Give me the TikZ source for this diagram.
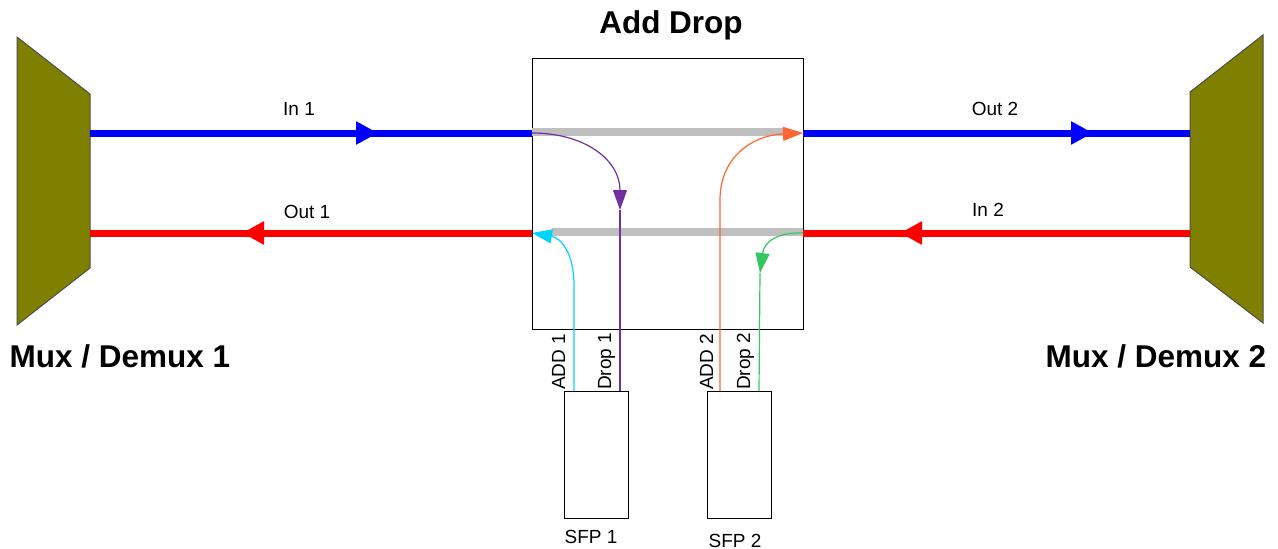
\documentclass[tikz,border=0pt]{standalone}
\usepackage{fontspec}
\setmainfont{Liberation Sans}
\usetikzlibrary{arrows.meta}
\definecolor{olivemux}{RGB}{128,128,0}
\definecolor{linkblue}{RGB}{0,0,255}
\definecolor{linkred}{RGB}{255,0,0}
\definecolor{bargray}{RGB}{191,191,191}
\definecolor{droppurple}{RGB}{112,48,160}
\definecolor{addorange}{RGB}{255,102,51}
\definecolor{addcyan}{RGB}{0,212,250}
\definecolor{dropgreen}{RGB}{51,200,100}
\tikzset{
 mux/.style={fill=olivemux, draw=black!70, line width=1pt},
 link/.style={line width=7pt},
 bigtip/.style={-{Triangle[length=22pt,width=22pt]}},
 bar/.style={line width=8pt, bargray},
 fiber/.style={line width=1.2pt},
 smalltip/.style={-{Triangle[length=20pt,width=14pt]}},
 lbl/.style={font=\fontsize{19}{22}\selectfont, inner sep=0pt, anchor=base},
 ttl/.style={font=\bfseries\fontsize{31.5}{36}\selectfont, inner sep=0pt, anchor=base},
 vlbl/.style={font=\fontsize{19}{22}\selectfont, inner sep=0pt, anchor=base west, rotate=90},
 boxst/.style={draw=black, line width=1pt, inner sep=0pt, outer sep=0pt},
}
\begin{document}
\begin{tikzpicture}[x=1pt,y=-1pt]
\useasboundingbox (0,0) rectangle (1278,549);
% mux shapes
\draw[mux] (17,37) -- (90,94) -- (90,268) -- (17,325) -- cycle;
\draw[mux] (1263,35) -- (1190,92) -- (1190,267) -- (1263,323) -- cycle;
% boxes
\node[boxst, minimum width=271pt, minimum height=271pt, anchor=north west] (ad) at (532,58) {};
\node[boxst, minimum width=64pt, minimum height=127pt, anchor=north west] (sfp1) at (564,391) {};
\node[boxst, minimum width=64pt, minimum height=127pt, anchor=north west] (sfp2) at (707,391) {};
% ports
\coordinate (m1b) at (90,133);
\coordinate (m1r) at (90,233);
\coordinate (m2b) at (1190,133);
\coordinate (m2r) at (1190,233);
\coordinate (adl1) at (532,133);
\coordinate (adl2) at (532,233);
\coordinate (adr1) at (803,133);
\coordinate (adr2) at (803,233);
\coordinate (in1tip) at (378,133);
\coordinate (out1tip) at (242,233);
\coordinate (out2tip) at (1093,133);
\coordinate (in2tip) at (900,233);
\coordinate (s1a) at (574,391);
\coordinate (s1d) at (620,391);
\coordinate (s2a) at (720,391);
\coordinate (s2d) at (759,391);
\coordinate (p1tip) at (620,210);
\coordinate (g2tip) at (760,273);
% links
\draw[link, linkblue] (m1b) -- (adl1);
\draw[link, linkblue, bigtip] (m1b) -- (in1tip);
\draw[link, linkred] (adl2) -- (m1r);
\draw[link, linkred, bigtip] (adl2) -- (out1tip);
\draw[link, linkblue] (adr1) -- (m2b);
\draw[link, linkblue, bigtip] (adr1) -- (out2tip);
\draw[link, linkred] (m2r) -- (adr2);
\draw[link, linkred, bigtip] (m2r) -- (in2tip);
% bars
\draw[bar] (532,132) -- (783,132);
\draw[bar] (552,232) -- (803,232);
% fibers
\draw[fiber, droppurple, smalltip] (adl1) .. controls (585,133) and (620,160) .. (p1tip);
\draw[fiber, droppurple] (p1tip) -- (s1d);
\draw[fiber, addorange, smalltip] (s2a) -- (720,200) .. controls (720,155) and (755,135) .. (adr1);
\draw[fiber, addcyan, smalltip] (s1a) -- (574,285) .. controls (574,255) and (562,238) .. (adl2);
\draw[fiber, dropgreen, smalltip] (adr2) .. controls (777,232) and (764,242) .. (g2tip);
\draw[fiber, dropgreen] (g2tip) -- (s2d);
% labels
\node[ttl] (title) at (671,33) {Add Drop};
\node[ttl] (mux1) at (120,367) {Mux / Demux 1};
\node[ttl] (mux2) at (1156,367) {Mux / Demux 2};
\node[lbl] (lin1) at (299,115) {In 1};
\node[lbl] (lout1) at (307,218) {Out 1};
\node[lbl] (lout2) at (995,115) {Out 2};
\node[lbl] (lin2) at (988,216) {In 2};
\node[lbl] (lsfp1) at (591,543) {SFP 1};
\node[lbl] (lsfp2) at (735,547) {SFP 2};
\node[vlbl] (ladd1) at (565,390) {ADD 1};
\node[vlbl] (ldrop1) at (611,390) {Drop 1};
\node[vlbl] (ladd2) at (713,390) {ADD 2};
\node[vlbl] (ldrop2) at (750,390) {Drop 2};
\end{tikzpicture}
\end{document}
